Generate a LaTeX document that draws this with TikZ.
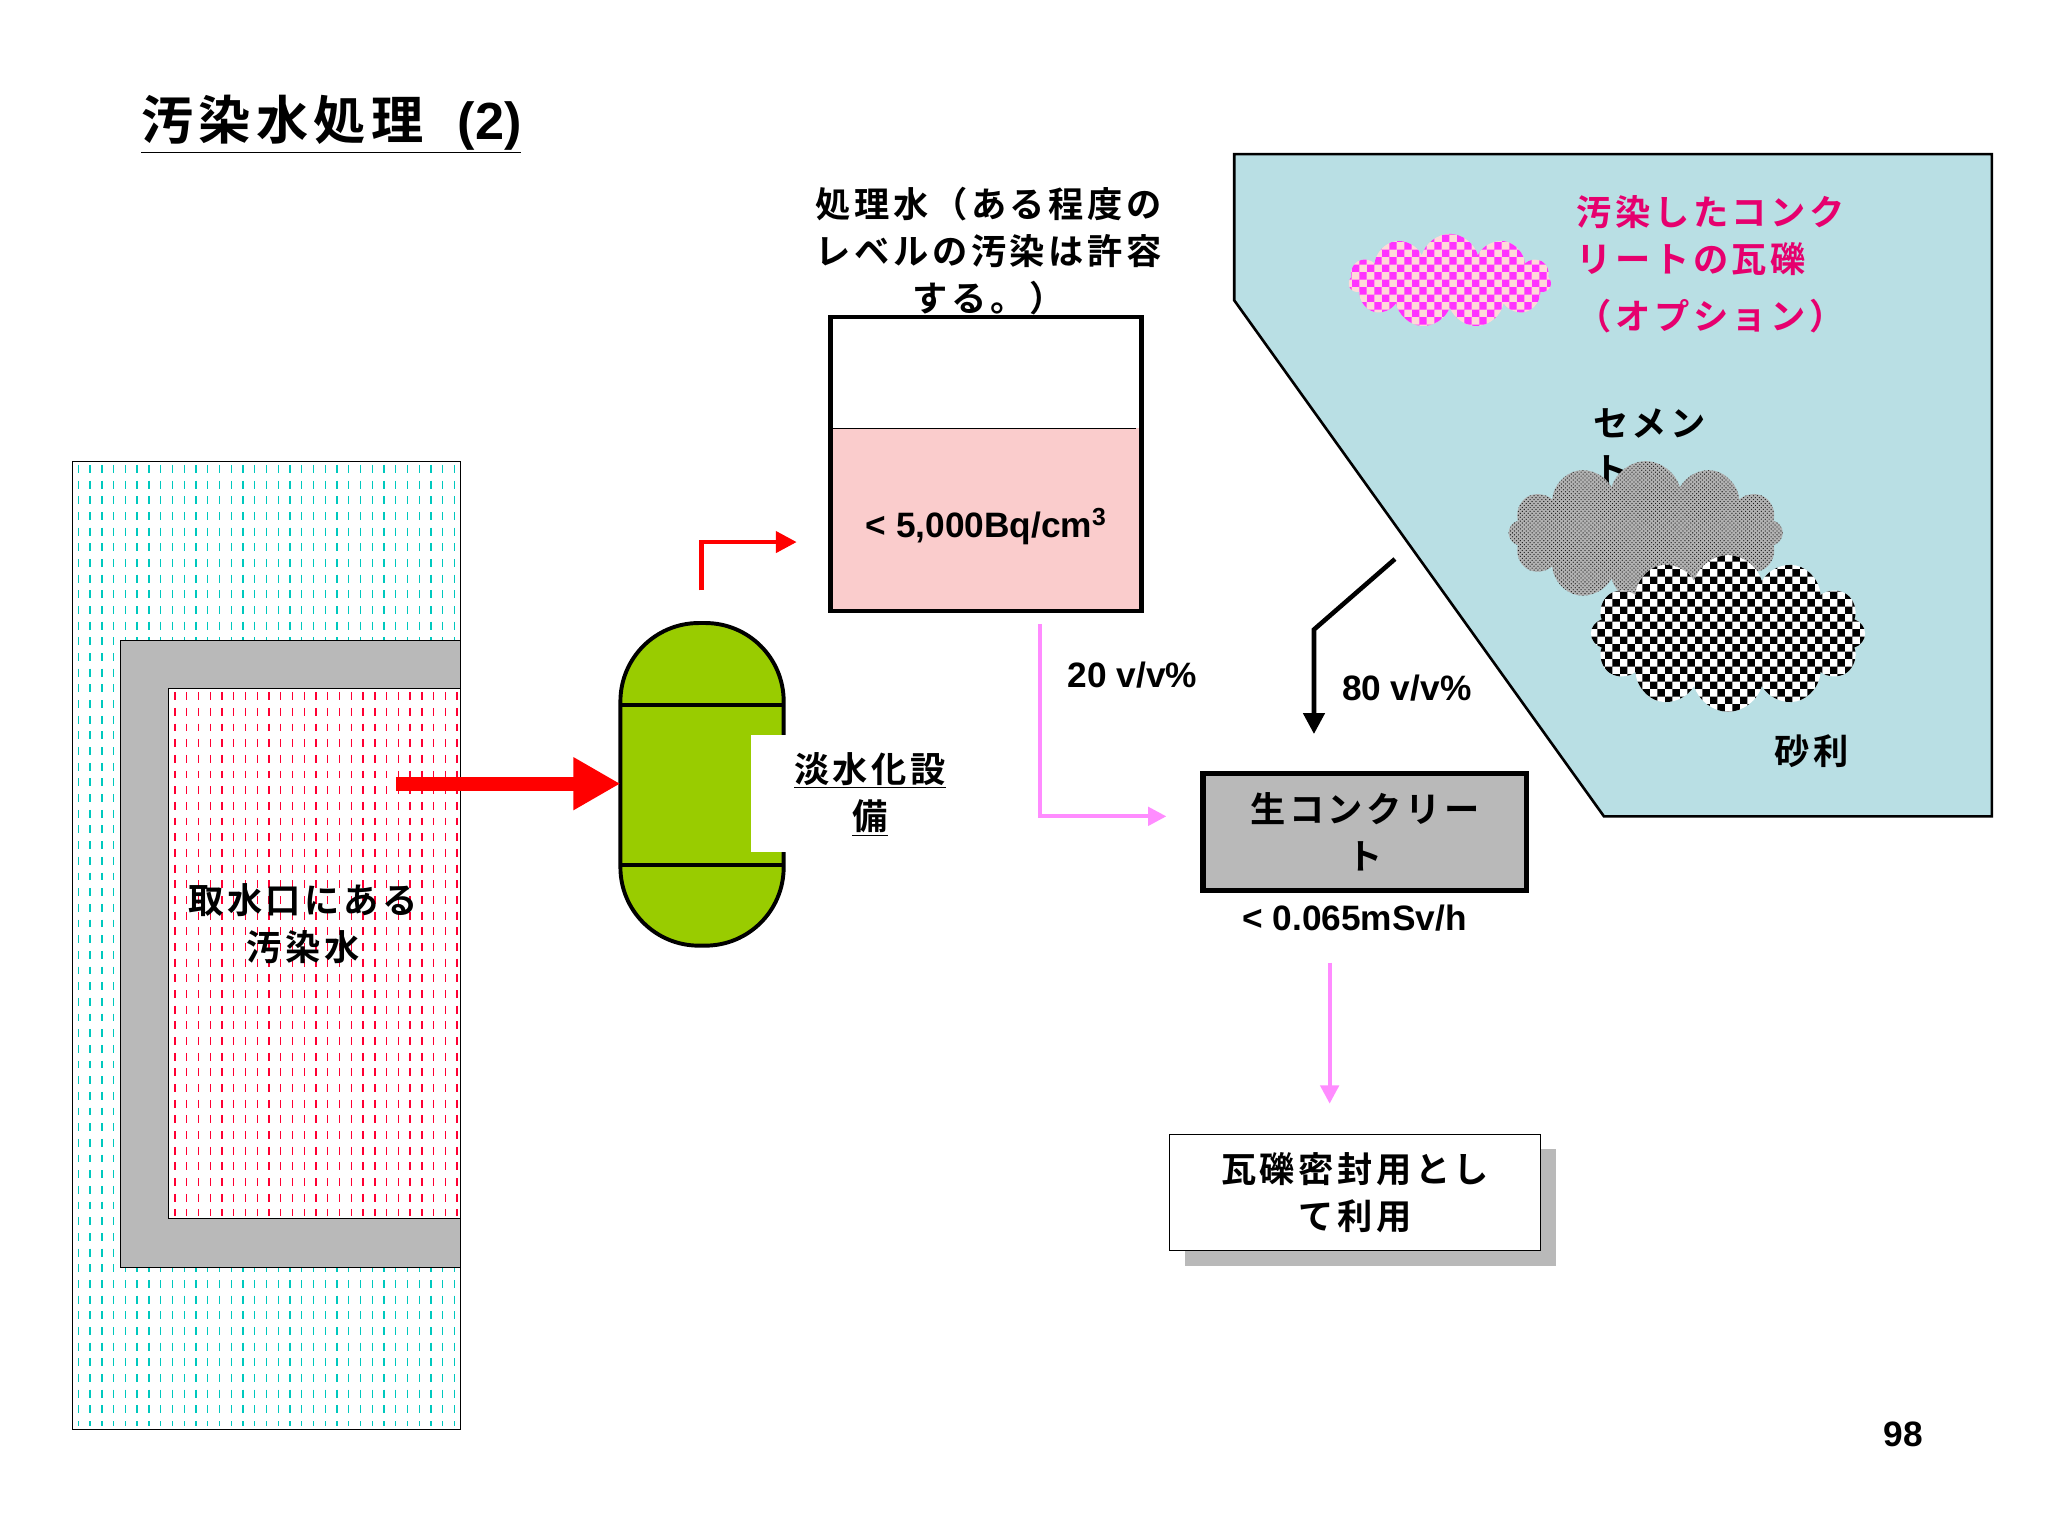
\documentclass[tikz,border=0pt]{standalone}
\usepackage{fontspec}
\setmainfont{Noto Sans CJK JP}[BoldFont={* Bold}, LetterSpace=10]
\newfontfamily\lat{Liberation Sans}
\usetikzlibrary{arrows.meta,shapes.symbols,patterns}
\definecolor{cyanbg}{RGB}{185,223,228}
\definecolor{pinkfill}{RGB}{250,204,204}
\definecolor{grn}{RGB}{153,204,0}
\definecolor{mag}{RGB}{230,0,110}
\definecolor{lpink}{RGB}{255,140,255}
\definecolor{seadash}{RGB}{0,200,190}
\tikzset{
 txt/.style={font=\bfseries\fontsize{27}{36}\selectfont, align=center, inner sep=0},
 ltxt/.style={font=\lat\bfseries\fontsize{27}{30}\selectfont, inner sep=0},
 pinkarr/.style={draw=lpink, line width=3pt, -{Triangle[length=14pt,width=14pt]}},
}
\begin{document}
\begin{tikzpicture}[x=1pt,y=-1pt]
\useasboundingbox (0,0) rectangle (1568,1176);
\fill[white] (0,0) rectangle (1568,1176);
% title
\node[txt, font=\bfseries\fontsize{40}{44}\selectfont, anchor=west] (title) at (108,95) {\underline{汚染水処理\ \ {\lat (2)}}};
% left area
\node[draw=black, minimum width=297pt, minimum height=741pt, inner sep=0, anchor=north west] (sea) at (55,353) {};
\foreach \x in {60,69,...,350} \draw[seadash, line width=1pt, dash pattern=on 6pt off 6pt] (\x,356) -- (\x,1092);
\fill[gray!55] (92,490) rectangle (352,970);
\draw (92,490) -- (352,490) (92,490) -- (92,970) -- (352,970);
\fill[white] (129,527) rectangle (352,933);
\foreach \x in {134,143,...,350} \draw[red!80!magenta, line width=1pt, dash pattern=on 6pt off 6pt] (\x,530) -- (\x,931);
\draw (129,527) rectangle (352,933);
\node[txt] (intake) at (232,707) {取水口にある\\汚染水};
% desalination
\draw[line width=3pt, fill=grn, rounded corners=60pt] (475,477) rectangle (600,724);
\coordinate (desalL) at (475,600);
\draw[line width=3pt] (475,540) -- (600,540) (475,662) -- (600,662);
\fill[white] (575,563) rectangle (622,652);
\node[txt] (desal) at (666,608) {\underline{淡水化設}\\\underline{備}};
\draw[red, line width=11pt, -{Triangle[length=36pt,width=38pt]}] (303,600) -- (desalL);
% tank
\node[txt] (treated) at (757,192) {処理水（ある程度の\\レベルの汚染は許容\\する。）};
\fill[pinkfill] (634,328) rectangle (872,466);
\node[draw, line width=3.5pt, minimum width=238pt, minimum height=225pt, anchor=north west, inner sep=0] (tank) at (634,241) {};
\draw (636,328) -- (870,328);
\node[ltxt] (bq) at (755,403) {< 5,000Bq/cm\textsuperscript{3}};
\coordinate (redin) at (610,415);
\draw[red, line width=3.5pt, -{Triangle[length=16pt,width=16pt]}] (537,452) -- (537,415) -- (redin);
% pink 20%
\coordinate (p1) at (893,625);
\draw[pinkarr] (796,478) -- (796,625) -- (p1);
\node[ltxt] (v20) at (867,517) {20 v/v\%};
% cyan region
\draw[line width=2pt, fill=cyanbg] (945,118) -- (1525,118) -- (1525,625) -- (1228,625) -- (945,230) -- cycle;
\node[cloud, cloud puffs=11, aspect=2.2, minimum width=155pt, minimum height=72pt, fill=pink!60] (c1) at (1110,215) {};
\node[cloud, cloud puffs=11, aspect=2.2, minimum width=155pt, minimum height=72pt, pattern=checkerboard, pattern color=magenta!80] at (1110,215) {};
\node[txt, text=mag, align=left, anchor=west] (contam) at (1207,180) {汚染したコンク\\リートの瓦礫};
\node[txt, text=mag, anchor=west] (opt) at (1207,242) {（オプション）};
\node[txt, align=left, anchor=west] (cem) at (1220,342) {セメン\\ト};
\node[cloud, cloud puffs=12, aspect=1.9, minimum width=210pt, minimum height=110pt, fill=gray!60] (c2) at (1260,408) {};
\node[cloud, cloud puffs=12, aspect=1.9, minimum width=210pt, minimum height=110pt, pattern=crosshatch dots, pattern color=gray!20!black] at (1260,408) {};
\node[cloud, cloud puffs=12, aspect=1.7, minimum width=210pt, minimum height=120pt, fill=white] (c3) at (1323,485) {};
\node[cloud, cloud puffs=12, aspect=1.7, minimum width=210pt, minimum height=120pt, pattern=checkerboard, pattern color=black] at (1323,485) {};
\node[txt] (grav) at (1387,575) {砂利};
% black arrow 80%
\coordinate (b1) at (1006,562);
\draw[line width=3.5pt, -{Triangle[length=16pt,width=16pt]}] (1068,428) -- (1006,482) -- (b1);
\node[ltxt] (v80) at (1077,527) {80 v/v\%};
% concrete
\node[draw, line width=4pt, fill=gray!55, minimum width=248pt, minimum height=90pt, anchor=north west, inner sep=0] (conc) at (919,590) {};
\node[txt] at (conc) {生コンクリー\\ト};
\node[ltxt] (msv) at (1037,703) {< 0.065mSv/h};
\coordinate (p2a) at (1018,737);
\coordinate (p2b) at (1018,845);
\draw[pinkarr] (p2a) -- (p2b);
% use box
\fill[gray!55] (907,880) rectangle (1191,969);
\node[draw, line width=1pt, fill=white, minimum width=284pt, minimum height=89pt, anchor=north west, inner sep=0] (use) at (895,868) {};
\node[txt] at (use) {瓦礫密封用とし\\て利用};
\node[ltxt] (pg) at (1457,1098) {98};
\end{tikzpicture}
\end{document}
